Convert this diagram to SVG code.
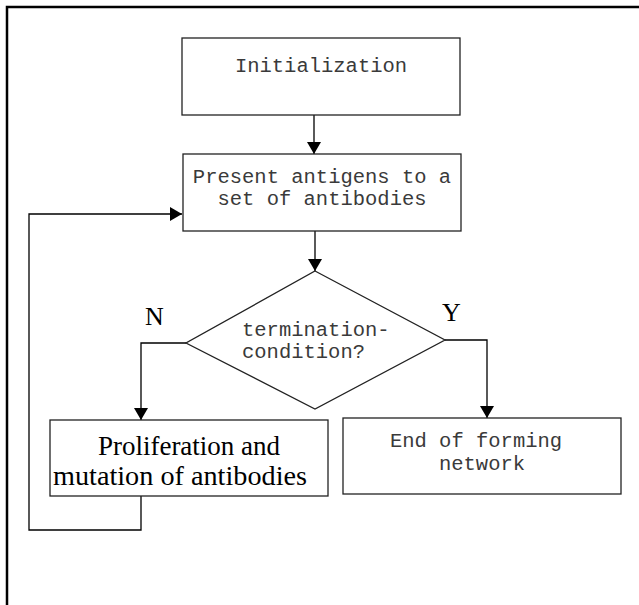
<svg xmlns="http://www.w3.org/2000/svg" width="639" height="605" viewBox="0 0 639 605">
<defs>
<style>
.box{fill:#fff;stroke:#222;stroke-width:1.3}
.ln{fill:none;stroke:#000;stroke-width:1.3}
.mono{font-family:"Liberation Mono","DejaVu Sans Mono",monospace;font-size:20.5px;fill:#3a3a3a}
.serif{font-family:"Liberation Serif","Times New Roman",serif;fill:#000}
</style>
<marker id="ah" markerUnits="userSpaceOnUse" markerWidth="12" markerHeight="14" viewBox="0 0 12 14" refX="12" refY="7" orient="auto">
<path d="M0,0 L12,7 L0,14 Z" fill="#000"/>
</marker>
</defs>
<rect width="639" height="605" fill="#fff"/>
<path d="M7,605 V7 H639" fill="none" stroke="#000" stroke-width="2.5"/>
<g id="connectors">
<path class="ln" d="M314,115 V154" marker-end="url(#ah)"/>
<path class="ln" d="M315,231 V271" marker-end="url(#ah)"/>
<path class="ln" d="M186,343 H141 V420" marker-end="url(#ah)"/>
<path class="ln" d="M445,340 H487 V418" marker-end="url(#ah)"/>
<path class="ln" d="M141,496 V530 H29 V214 H182" marker-end="url(#ah)"/>
</g>
<g id="init">
<rect class="box" x="182" y="38" width="278" height="77"/>
<text class="mono" x="321" y="72" text-anchor="middle">Initialization</text>
</g>
<g id="present">
<rect class="box" x="183" y="154" width="278" height="77"/>
<text class="mono" x="322" y="183" text-anchor="middle">Present antigens to a</text>
<text class="mono" x="322" y="205" text-anchor="middle">set of antibodies</text>
</g>
<g id="decision">
<polygon class="box" points="315,271 445,340 315,409 186,343"/>
<text class="mono" x="242" y="336">termination-</text>
<text class="mono" x="242" y="358">condition?</text>
</g>
<g id="labels">
<text class="serif" x="145" y="325" font-size="26">N</text>
<text class="serif" x="442" y="321" font-size="26">Y</text>
</g>
<g id="proliferation">
<rect class="box" x="50" y="420" width="278" height="76"/>
<text class="serif" x="189" y="455" font-size="27" text-anchor="middle">Proliferation and</text>
<text class="serif" x="53" y="485" font-size="27" textLength="254" lengthAdjust="spacingAndGlyphs">mutation of antibodies</text>
</g>
<g id="end">
<rect class="box" x="343" y="418" width="278" height="76"/>
<text class="mono" x="476" y="447" text-anchor="middle">End of forming</text>
<text class="mono" x="482" y="470" text-anchor="middle">network</text>
</g>
</svg>
